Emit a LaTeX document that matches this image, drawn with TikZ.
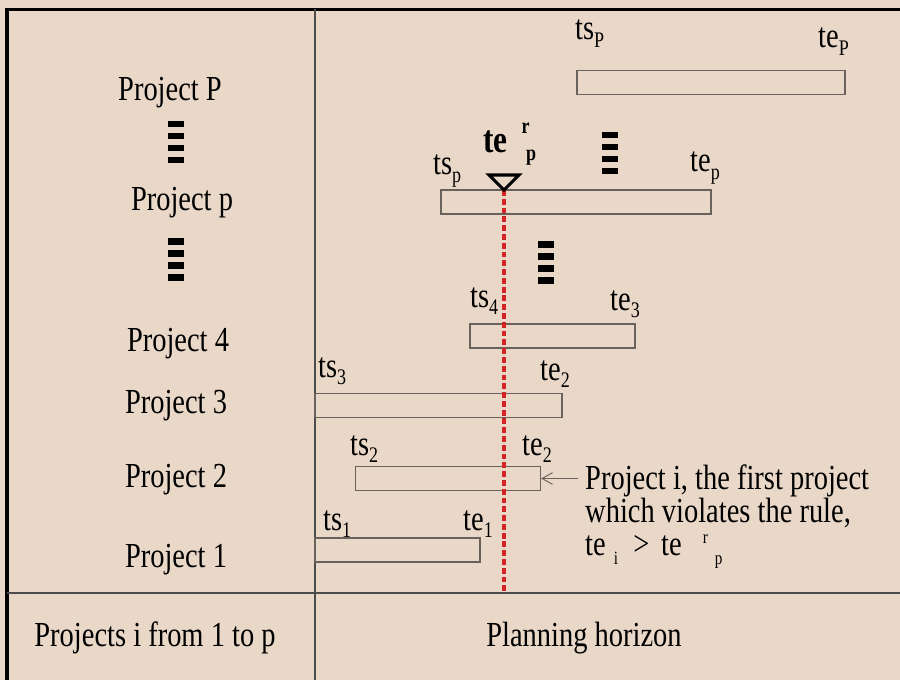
\documentclass[tikz,border=0pt]{standalone}
\usepackage{fontspec}
\setmainfont{Liberation Serif}[FakeStretch=0.81]
\usetikzlibrary{arrows.meta,positioning}
\definecolor{paper}{RGB}{233,216,200}
\definecolor{rulered}{RGB}{214,36,36}
\definecolor{barline}{RGB}{105,98,92}
\newcommand\lsub[1]{\raisebox{-6pt}{\fontsize{19}{19}\selectfont #1}}
\newcommand\tinysub[2]{\raisebox{#1}{\fontsize{16}{16}\selectfont #2}}
\newcommand\gapmark[2]{% four short bars
  \foreach \k in {0,...,3} \fill (#1-8,#2+\k*12) rectangle ++(16,6.5);}

\begin{document}
\begin{tikzpicture}[
  x=0.03cm, y=-0.03cm,
  font=\fontsize{30}{28}\selectfont,
  bar/.style={draw=barline,line width=0.9pt,inner sep=0pt,minimum height=0.72cm},
  lab/.style={anchor=base west,inner sep=0pt},
  row/.style={anchor=base,inner sep=0pt},
  frame/.style={line width=3.2pt},
  divider/.style={draw=black!70,line width=1.2pt},
  limit/.style={draw=rulered,line width=3pt,dash pattern=on 5pt off 2.5pt},
  pointer/.style={draw=barline,line width=0.8pt,-{Straight Barb[length=9pt,width=10pt]}},
]
\fill[paper] (0,0) rectangle (900,680);
\useasboundingbox (0,0) rectangle (900,680);

% Frame and table rules
\draw[frame] (7,680) -- (7,9.5) -- (900,9.5);
\draw[divider] (315,9.5) -- (315,680);
\draw[divider] (7,593) -- (900,593);

% Row labels
\node[row] (rowP) at (170,101) {Project P};
\node[row] (rowp) at (182,211) {Project p};
\node[row] (row4) at (178,351) {Project 4};
\node[row] (row3) at (176,413) {Project 3};
\node[row] (row2) at (176,487) {Project 2};
\node[row] (row1) at (176,567) {Project 1};
\gapmark{176}{121}
\gapmark{176}{238}

% Column heads
\node[row] (colhead)  at (155,646) {Projects i from 1 to p};
\node[row] (timehead) at (584,646) {Planning horizon};

% Project bars
\node[bar,minimum width=8.04cm] (barP) at (711,82.5)  {};
\node[bar,minimum width=8.1cm]  (barp) at (576,202)   {};
\node[bar,minimum width=4.95cm] (bar4) at (552.5,336) {};
\node[bar,minimum width=7.41cm] (bar3) at (438.5,405.5) {};
\node[bar,minimum width=5.55cm] (bar2) at (448,478.5) {};
\node[bar,minimum width=4.95cm] (bar1) at (397.5,550) {};
\gapmark{610}{132}
\gapmark{546}{241}

% Start and end times
\node[lab] (tsP)  at (575,40)  {ts\lsub{P}};
\node[lab] (teP)  at (818,48)  {te\lsub{P}};
\node[lab] (tsp)  at (433,175) {ts\lsub{p}};
\node[lab] (tep)  at (690,172) {te\lsub{p}};
\node[lab] (ts4)  at (470,307) {ts\lsub{4}};
\node[lab] (te3)  at (610,310) {te\lsub{3}};
\node[lab] (ts3)  at (318,377) {ts\lsub{3}};
\node[lab] (te2b) at (540,380) {te\lsub{2}};
\node[lab] (ts2)  at (350,455) {ts\lsub{2}};
\node[lab] (te2)  at (522,455) {te\lsub{2}};
\node[lab] (ts1)  at (323,530) {ts\lsub{1}};
\node[lab] (te1)  at (463,530) {te\lsub{1}};

% Release limit of project p
\node[lab] (terp) at (483,153) {\fontsize{33}{33}\selectfont\bfseries
  te\kern12pt\raisebox{17pt}{\fontsize{19}{19}\selectfont r}\kern-3pt\raisebox{-6pt}{\fontsize{19}{19}\selectfont p}};
\coordinate (apex)  at (504,190);
\coordinate (floor) at (504,592);
\draw[limit] (apex) -- (floor);
\draw[line width=2.6pt,line join=miter] (489,175) -- (519,175) -- (apex) -- cycle;

% Violating project
\node[anchor=base west,inner sep=0pt,align=left] (note) at (585,555)
  {Project i, the first project\\which violates the rule,\\
   te\kern7pt\tinysub{-8pt}{i}\kern13pt>\kern10pt te\kern18pt\tinysub{10pt}{r}\kern6pt\tinysub{-8pt}{p}};
\coordinate (notetail) at (578,478.5);
\draw[pointer] (notetail) -- (bar2.east);
\end{tikzpicture}
\end{document}
